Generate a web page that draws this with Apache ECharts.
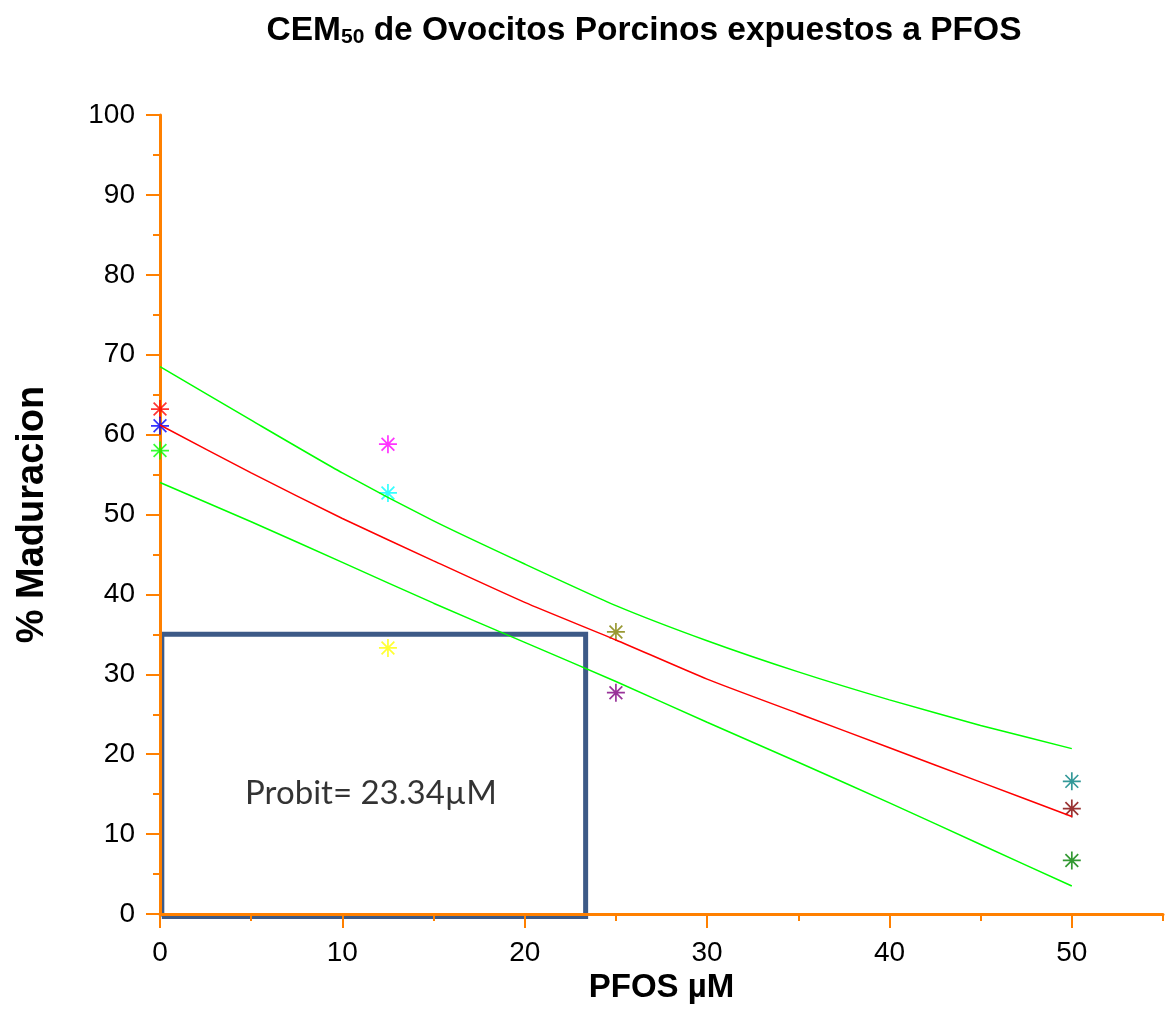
<!DOCTYPE html>
<html>
<head>
<meta charset="utf-8">
<script src="https://cdn.jsdelivr.net/npm/echarts@6/dist/echarts.min.js"></script>
<style>
	html, body { margin: 0; padding: 0; background: #fff; }
	#chart { width: 1167px; height: 1031px; }
</style>
</head>
<body>
<div id="chart"></div>
<script>
	"use strict";
	// concentrations (PFOS uM) where the fitted curves were read
	var curveX = [0, 5, 10, 15, 20, 25, 30, 35, 40, 45, 50];
	var probitFit = [61.2, 55.2, 49.5, 44.2, 39.0, 34.3, 29.4, 25.1, 20.8, 16.5, 12.2];
	var upperBand = [68.5, 61.8, 55.2, 49.2, 43.8, 38.6, 34.2, 30.3, 26.8, 23.6, 20.7];
	var lowerBand = [54.0, 49.1, 44.0, 38.9, 34.0, 29.1, 24.0, 19.0, 13.9, 8.7, 3.5];

	// observed points: [dose, % maturation, colour]
	var observed = [
		[0, 63.2, '#ff0000'],
		[0, 61.1, '#0000ff'],
		[0, 58.0, '#00ff00'],
		[12.5, 58.8, '#ff00ff'],
		[12.5, 52.7, '#00ffff'],
		[12.5, 33.3, '#ffff00'],
		[25, 35.3, '#808000'],
		[25, 27.7, '#800080'],
		[50, 16.6, '#008080'],
		[50, 13.2, '#800000'],
		[50, 6.7, '#008000']
	];

	// EC50 box
	var ec50 = 23.34;
	var ec50Level = 35;
	var boxLabel = 'Probit= 23.34µM';
	var boxLabelPos = [11.57, 15.1];

	var xTicks = [0, 10, 20, 30, 40, 50];
	var orange = '#ff8000';
	var star = 'path://M0,-10L0,10M-10,0L10,0M-7.1,-7.1L7.1,7.1M-7.1,7.1L7.1,-7.1';

	function pairs(xs, ys) {
		return xs.map(function(x, i) { return [x, ys[i]]; });
	}

	var chart = echarts.init(document.getElementById('chart'));
	var series = [];

	series.push({
		name: 'box',
		type: 'line',
		xAxisIndex: 0,
		z: -1,
		clip: false,
		symbol: 'none',
		data: [[0.1, -0.3], [0.1, ec50Level], [ec50, ec50Level], [ec50, -0.3], [0.1, -0.3]],
		lineStyle: { color: '#3d5a87', width: 5, join: 'miter' },
		silent: true
	});

	[[upperBand, '#00ff00'], [probitFit, '#ff0000'], [lowerBand, '#00ff00']].forEach(function(c) {
		series.push({
			type: 'line',
			xAxisIndex: 0,
			symbol: 'none',
			smooth: 0.2,
			data: pairs(curveX, c[0]),
			lineStyle: { color: c[1], width: 1.5 },
			silent: true
		});
	});

	series.push({
		type: 'scatter',
		xAxisIndex: 0,
		symbol: star,
		symbolSize: 18,
		data: observed.map(function(p) {
			return {
				value: [p[0], p[1]],
				itemStyle: { color: 'rgba(0,0,0,0)', borderColor: p[2], borderWidth: 1.7 }
			};
		}),
		silent: true
	});

	series.push({
		type: 'scatter',
		xAxisIndex: 0,
		symbolSize: 0,
		data: [boxLabelPos],
		label: {
			show: true,
			position: 'inside',
			formatter: boxLabel,
			color: '#000',
			fontFamily: 'Lato',
			fontSize: 33
		},
		silent: true
	});

	var option = {
		backgroundColor: '#fff',
		animation: false,
		title: {
			text: '{a|CEM}{s|50}{a| de Ovocitos Porcinos expuestos a PFOS}',
			left: 639,
			top: 3,
			textAlign: 'center',
			textStyle: {
				rich: {
					a: { fontFamily: 'Liberation Sans', fontWeight: 'bold', fontSize: 33.5, color: '#000', verticalAlign: 'bottom', lineHeight: 40 },
					s: { fontFamily: 'Liberation Sans', fontWeight: 'bold', fontSize: 21, color: '#000', verticalAlign: 'bottom', lineHeight: 34 }
				}
			}
		},
		grid: { left: 160, right: 4, top: 115, bottom: 117, outerBoundsMode: 'none', containLabel: false },
		xAxis: [{
			type: 'value',
			min: 0,
			max: 55,
			interval: 5,
			name: 'PFOS µM',
			nameLocation: 'middle',
			nameGap: 56,
			nameTextStyle: { fontFamily: 'Liberation Sans', fontWeight: 'bold', fontSize: 33, color: '#000' },
			splitLine: { show: false },
			axisLine: { lineStyle: { color: orange, width: 3 } },
			axisTick: { length: 7, lineStyle: { color: orange, width: 2 } },
			axisLabel: {
				margin: 25,
				fontFamily: 'Liberation Sans',
				fontSize: 28,
				color: '#000',
				formatter: function(v) { return v % 10 === 0 ? String(v) : ''; }
			}
		}, {
			type: 'value',
			min: 0,
			max: 55,
			position: 'bottom',
			splitLine: { show: false },
			axisLine: { show: false },
			axisTick: { customValues: xTicks, length: 14, lineStyle: { color: orange, width: 2 } },
			axisLabel: { show: false }
		}],
		yAxis: {
			type: 'value',
			min: 0,
			max: 100,
			interval: 10,
			name: '% Maduracion',
			nameLocation: 'middle',
			nameGap: 108,
			nameTextStyle: { fontFamily: 'Liberation Sans', fontWeight: 'bold', fontSize: 38, color: '#000' },
			splitLine: { show: false },
			axisLine: { lineStyle: { color: orange, width: 3 } },
			axisTick: { length: 14, lineStyle: { color: orange, width: 2 } },
			minorTick: { show: true, splitNumber: 2, length: 7, lineStyle: { color: orange, width: 2 } },
			minorSplitLine: { show: false },
			axisLabel: { margin: 25, fontFamily: 'Liberation Sans', fontSize: 28, color: '#000' }
		},
		series: series
	};
	chart.setOption(option);
</script>
</body>
</html>
